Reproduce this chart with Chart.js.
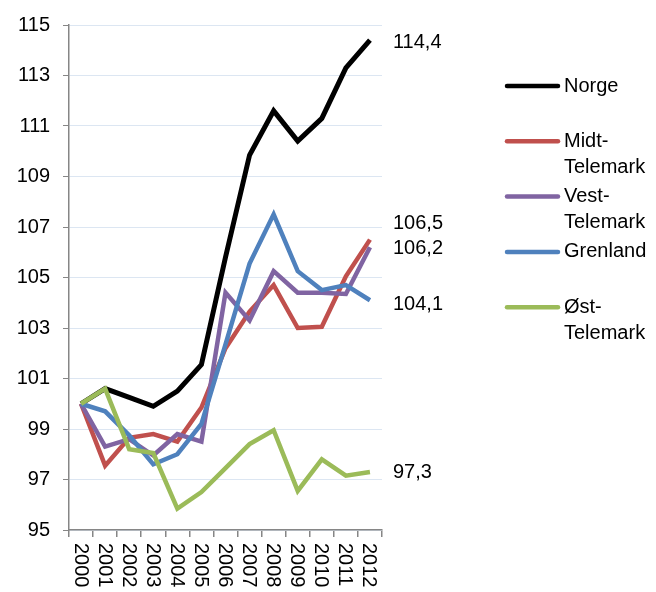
<!DOCTYPE html>
<html>
<head>
<meta charset="utf-8">
<script src="https://cdn.jsdelivr.net/npm/chart.js@4"></script>
<style>
  html, body { margin: 0; padding: 0; background: #fff; }
  #wrap { position: relative; width: 656px; height: 592px; }
</style>
</head>
<body>
<div id="wrap"><canvas id="chart" width="656" height="592"></canvas></div>
<script>
// ── Data ─────────────────────────────────────────
const years       = ['2000','2001','2002','2003','2004','2005','2006','2007','2008','2009','2010','2011','2012'];
const norge       = [100, 100.6, 100.25, 99.9, 100.5, 101.55, 105.8, 109.85, 111.6, 110.4, 111.3, 113.3, 114.4];
const midtTel     = [100, 97.55, 98.65, 98.8, 98.5, 99.85, 102.2, 103.65, 104.7, 103.0, 103.05, 105.05, 106.5];
const vestTel     = [100, 98.3, 98.6, 97.95, 98.8, 98.5, 104.4, 103.3, 105.25, 104.4, 104.4, 104.35, 106.2];
const grenland    = [100, 99.7, 98.75, 97.6, 98.0, 99.2, 102.35, 105.55, 107.5, 105.25, 104.5, 104.7, 104.1];
const ostTel      = [100, 100.6, 98.2, 98.05, 95.85, 96.5, 97.45, 98.4, 98.95, 96.55, 97.8, 97.15, 97.3];
const yTicks      = [95, 97, 99, 101, 103, 105, 107, 109, 111, 113, 115];
const endLabels   = ['114,4', '106,5', '106,2', '104,1', '97,3'];

const FONT = 'Liberation Sans, Arial, sans-serif';
const GREY = '#868686';

const series = [
  { label: ['Norge'],             data: norge,    color: '#000000', width: 5   },
  { label: ['Midt-', 'Telemark'], data: midtTel,  color: '#C0504D', width: 4.5 },
  { label: ['Vest-', 'Telemark'], data: vestTel,  color: '#8064A2', width: 4.5 },
  { label: ['Grenland'],          data: grenland, color: '#4F81BD', width: 4.5 },
  { label: ['Øst-', 'Telemark'],  data: ostTel,   color: '#9BBB59', width: 4.5 },
];

// ── Custom drawing: x labels (rotated clockwise), end values, legend ──
const extras = {
  id: 'extras',
  afterDraw(chart) {
    const ctx = chart.ctx;
    const xs  = chart.scales.x;
    const ys  = chart.scales.y;
    ctx.save();
    ctx.fillStyle = '#000';
    ctx.font = '20px ' + FONT;

    // year labels, reading top to bottom
    ctx.textAlign = 'left';
    ctx.textBaseline = 'middle';
    years.forEach((y, i) => {
      ctx.save();
      ctx.translate(xs.getPixelForValue(i) - 1, xs.top + 13);
      ctx.rotate(Math.PI / 2);
      ctx.fillText(y, 0, 0);
      ctx.restore();
    });

    // end-of-line values
    const nudge = [2, -16, 1, 4, 1];
    const last  = years.length - 1;
    const lx    = xs.getPixelForValue(last) + 23;
    [norge, midtTel, vestTel, grenland, ostTel].forEach((d, i) => {
      ctx.fillText(endLabels[i], lx, ys.getPixelForValue(d[last]) + nudge[i]);
    });

    // legend
    series.forEach((s, i) => {
      const cy = 86 + i * 55.3;
      ctx.beginPath();
      ctx.lineCap = 'round';
      ctx.lineWidth = 4.5;
      ctx.strokeStyle = s.color;
      ctx.moveTo(507, cy);
      ctx.lineTo(558, cy);
      ctx.stroke();
      s.label.forEach((t, j) => ctx.fillText(t, 564, cy + j * 26));
    });
    ctx.restore();
  }
};

new Chart(document.getElementById('chart'), {
  type: 'line',
  data: {
    labels: years,
    datasets: series.map((s, i) => ({
      label:       s.label.join(' '),
      data:        s.data,
      borderColor: s.color,
      borderWidth: s.width,
      pointRadius: 0,
      tension:     0,
      fill:        false,
      order:       series.length - i,
    })),
  },
  options: {
    responsive: false,
    animation:  false,
    layout: { padding: { top: 22, right: 274, left: 0, bottom: 0 } },
    plugins: { legend: { display: false }, tooltip: { enabled: false } },
    scales: {
      x: {
        offset: true,
        grid:   { offset: true, drawOnChartArea: false, tickLength: 7, tickColor: GREY, lineWidth: 1.5 },
        border: { color: GREY, width: 1.5 },
        ticks:  { display: false },
        afterFit: (s) => { s.height = 62; },
      },
      y: {
        min: 95, max: 115,
        afterBuildTicks: (s) => { s.ticks = yTicks.map(v => ({ value: v })); },
        grid:   { color: '#DCE6F2', lineWidth: 1, tickLength: 6, tickColor: GREY },
        border: { color: GREY, width: 1.5 },
        ticks:  { color: '#000', font: { family: FONT, size: 20 }, padding: 13 },
        afterFit: (s) => { s.width = 69; },
      },
    },
  },
  plugins: [extras],
});
</script>
</body>
</html>
